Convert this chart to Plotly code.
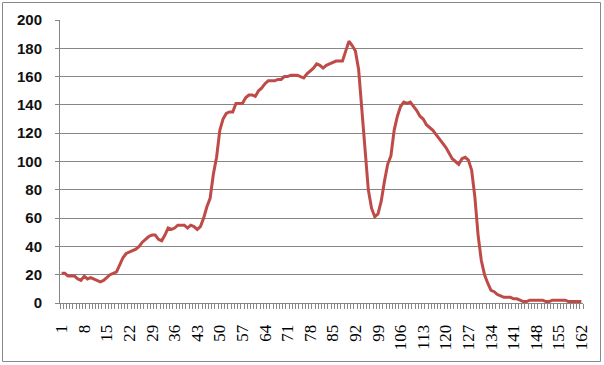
import plotly.graph_objects as go

values = [21, 21, 19, 19, 19, 17, 16, 19, 17, 18,
          17, 16, 15, 16, 18, 20, 21, 22, 27, 32,
          35, 36, 37, 38, 40, 43, 45, 47, 48, 48,
          45, 44, 48, 53, 52, 53, 55, 55, 55, 53,
          55, 54, 52, 54, 60, 68, 74, 91, 103, 122,
          130, 134, 135, 135, 141, 141, 141, 145, 147, 147,
          146, 150, 152, 155, 157, 157, 157, 158, 158, 160,
          160, 161, 161, 161, 160, 159, 162, 164, 166, 169,
          168, 166, 168, 169, 170, 171, 171, 171, 178, 185,
          182, 178, 165, 135, 105, 80, 67, 61, 63, 72,
          86, 98, 104, 122, 132, 139, 142, 141, 142, 139,
          136, 132, 130, 126, 124, 122, 119, 116, 113, 110,
          106, 102, 100, 98, 102, 103, 101, 94, 75, 48,
          30, 20, 14, 9, 8, 6, 5, 4, 4, 4,
          3, 3, 2, 1, 1, 2, 2, 2, 2, 2,
          1, 1, 2, 2, 2, 2, 2, 1, 1, 1,
          1, 1]
categories = list(range(1, len(values) + 1))
tick_labels = [str(c) for c in categories if (c - 1) % 7 == 0]
y_ticks = [0, 20, 40, 60, 80, 100, 120, 140, 160, 180, 200]

fig = go.Figure()
fig.add_trace(go.Scatter(x=categories, y=values, mode="lines",
                         line=dict(color="#BE4B48", width=3), showlegend=False))

L, R, T, B = 60, 583, 20, 303
W, H = 604, 365

def px_x(p):
    return (p - L) / (R - L)

def px_y(p):
    return (B - p) / (B - T)

fig.update_layout(
    width=W, height=H,
    margin=dict(l=L, r=W - R, t=T, b=H - B),
    paper_bgcolor="white", plot_bgcolor="white",
    xaxis=dict(
        range=[0.5, len(values) + 0.5],
        tickmode="array",
        tickvals=[int(t) for t in tick_labels],
        ticktext=tick_labels,
        tickangle=-90,
        ticks="",
        ticklabelstandoff=14,
        showgrid=False,
        showline=True, linecolor="#868686", linewidth=1,
        zeroline=False,
        tickfont=dict(family="Liberation Serif", size=17, color="#000"),
        minor=dict(ticks="outside", tickmode="linear", tick0=0.5, dtick=1,
                   ticklen=5, tickcolor="#868686", showgrid=False),
    ),
    yaxis=dict(
        range=[0, 200],
        tickvals=y_ticks,
        ticks="outside", ticklen=4, tickcolor="#868686",
        ticklabelstandoff=10,
        showgrid=True, gridcolor="#868686", gridwidth=1,
        showline=True, linecolor="#868686", linewidth=1,
        zeroline=False,
        tickfont=dict(family="Liberation Sans", size=15, color="#111", weight="bold"),
    ),
    shapes=[dict(type="rect", xref="paper", yref="paper",
                 x0=px_x(2.5), x1=px_x(600.5), y0=px_y(361.5), y1=px_y(2.5),
                 line=dict(color="#888888", width=1), fillcolor="rgba(0,0,0,0)",
                 layer="below")],
)

fig.write_html("out.html")
